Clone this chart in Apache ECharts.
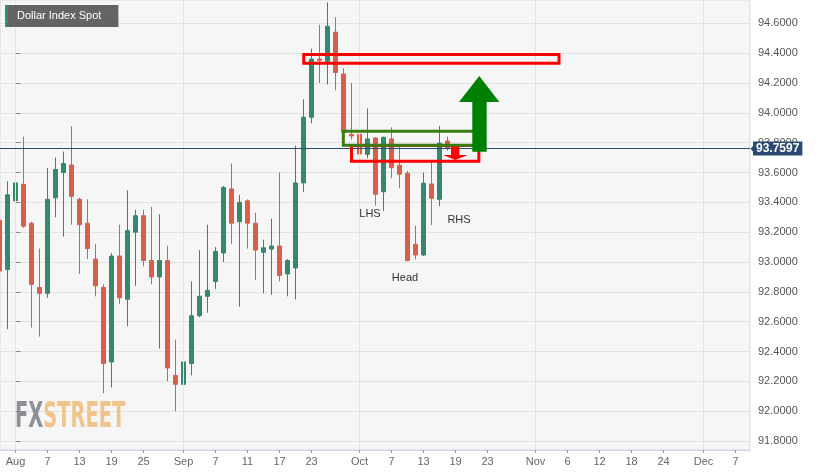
<!DOCTYPE html>
<html><head><meta charset="utf-8">
<script src="https://cdn.jsdelivr.net/npm/echarts@6/dist/echarts.min.js"></script>
<style>html,body{margin:0;padding:0;background:#fff}#c{width:827px;height:476px}</style>
</head><body><div id="c"></div>
<script>
// ---- data ----
const dates = ['2020-07-30','2020-07-31','2020-08-03','2020-08-04','2020-08-05','2020-08-06','2020-08-07',
'2020-08-10','2020-08-11','2020-08-12','2020-08-13','2020-08-14','2020-08-17','2020-08-18','2020-08-19','2020-08-20','2020-08-21',
'2020-08-24','2020-08-25','2020-08-26','2020-08-27','2020-08-28','2020-08-31','2020-09-01','2020-09-02','2020-09-03','2020-09-04',
'2020-09-07','2020-09-08','2020-09-09','2020-09-10','2020-09-11','2020-09-14','2020-09-15','2020-09-16','2020-09-17','2020-09-18',
'2020-09-21','2020-09-22','2020-09-23','2020-09-24','2020-09-25','2020-09-28','2020-09-29','2020-09-30','2020-10-01','2020-10-02',
'2020-10-05','2020-10-06','2020-10-07','2020-10-08','2020-10-09','2020-10-12','2020-10-13','2020-10-14','2020-10-15','2020-10-16'];
const open  = [93.28,92.95,93.41,93.52,93.26,92.83,92.79,93.43,93.60,93.65,93.42,93.26,93.02,92.83,92.33,93.04,92.75,
93.20,93.31,93.01,92.90,93.01,92.24,92.18,92.32,92.64,92.77,92.87,93.06,93.49,93.27,93.41,93.26,93.065,93.087,93.107,92.92,
92.96,93.53,93.97,94.36,94.345,94.54,94.26,93.855,93.856,93.722,93.831,93.471,93.825,93.648,93.595,93.119,93.047,93.523,93.42,93.811];
const close = [92.94,93.45,93.53,93.24,92.85,92.79,93.42,93.62,93.66,93.44,93.25,93.09,92.84,92.32,93.04,92.76,93.21,
93.31,93.01,92.90,93.01,92.29,92.18,92.33,92.64,92.77,92.81,93.07,93.50,93.26,93.40,93.26,93.08,93.095,93.107,92.91,93.01,
93.53,93.97,94.36,94.35,94.58,94.27,93.87,93.845,93.724,93.825,93.454,93.836,93.632,93.588,93.009,93.047,93.528,93.427,93.796,93.76];
const low   = [92.92,92.55,93.36,93.23,92.56,92.50,92.76,93.30,93.17,93.25,92.92,93.02,92.77,92.12,92.16,92.72,92.57,
92.84,92.97,92.85,92.42,92.20,92.00,91.745,92.24,92.63,92.66,92.82,93.00,93.12,92.70,93.09,92.88,92.79,92.78,92.87,92.77,
92.75,93.47,93.93,94.20,94.19,94.15,93.85,93.82,93.528,93.695,93.378,93.342,93.561,93.494,93.005,93.018,93.04,93.248,93.375,93.744];
const high  = [93.68,93.54,94.00,93.84,93.27,93.09,93.63,93.70,93.74,93.91,93.43,93.42,93.12,92.85,93.06,93.25,93.48,
93.35,93.35,93.37,93.32,93.11,92.48,92.41,92.87,93.08,93.25,93.10,93.51,93.66,93.45,93.42,93.33,93.15,93.29,93.60,93.02,
93.78,94.09,94.43,94.59,94.74,94.64,94.30,94.20,93.918,94.03,93.836,93.84,93.903,93.773,93.612,93.243,93.599,93.666,93.912,93.84];
const lastPrice = 93.7597;

const tickDates  = ['2020-08-03','2020-08-07','2020-08-13','2020-08-19','2020-08-25','2020-09-01','2020-09-07','2020-09-11',
'2020-09-17','2020-09-23','2020-10-01','2020-10-07','2020-10-13','2020-10-19','2020-10-23','2020-11-02','2020-11-06',
'2020-11-12','2020-11-18','2020-11-24','2020-12-01','2020-12-07'];
const tickLabels = ['Aug','7','13','19','25','Sep','7','11','17','23','Oct','7','13','19','23','Nov','6','12','18','24','Dec','7'];
const yTicks = [91.8,92.0,92.2,92.4,92.6,92.8,93.0,93.2,93.4,93.6,93.8,94.0,94.2,94.4,94.6];

// annotation shapes in (trading-day index, price) space
const resistBox = [[36.03,94.390],[67.94,94.390],[67.94,94.332],[36.03,94.332]];
const supportBox = [[42.0,93.780],[57.92,93.780],[57.92,93.675],[42.0,93.675]];
const breakBox = [[40.98,93.876],[57.98,93.876],[57.98,93.782],[40.98,93.782]];
const upArrow = [[57.97,94.247],[60.48,94.073],[58.9,94.073],[58.9,93.739],[57.1,93.739],[57.1,94.073],[55.44,94.073]];
const downArrow = [[54.44,93.773],[55.48,93.773],[55.48,93.717],[56.52,93.717],[54.96,93.684],[53.48,93.717],[54.44,93.717]];
const patternLabels = [['LHS',44.31,93.322],['Head',48.69,92.893],['RHS',55.44,93.282]];

// ---- helpers ----
function tIndex(s){
  const base = Date.UTC(2020,7,3);
  const d = Date.UTC(+s.slice(0,4), +s.slice(5,7)-1, +s.slice(8,10));
  const days = Math.round((d-base)/86400000);
  const w = Math.floor(days/7), r = days - 7*w;
  return 5*w + Math.min(r,5);
}
const tickIdx = tickDates.map(tIndex);
const monthIdx = tickIdx.filter((v,k)=>isNaN(+tickLabels[k]));
const candleData = dates.map((d,k)=>[tIndex(d), open[k], close[k], low[k], high[k]]);

const GREEN = '#37876f', RED = '#d75f4b', NAVY = '#2b4a72';
const FONT = '"Liberation Sans", Arial, sans-serif';
const X_MIN = -1.9375, X_MAX = 91.8125;

const annotations = [
  {pts: resistBox, stroke:'#ff0000', fill:'none', lw:3},
  {pts: supportBox, stroke:'#ff0000', fill:'none', lw:3},
  {pts: breakBox, stroke:'#3a7e12', fill:'none', lw:3},
  {pts: upArrow, stroke:null, fill:'#008000', lw:0},
  {pts: downArrow, stroke:null, fill:'#ff0000', lw:0}
];

const chart = echarts.init(document.getElementById('c'), null, {renderer:'canvas'});
chart.setOption({
  animation: false,
  backgroundColor: '#ffffff',
  title: {
    text: 'Dollar Index Spot', left: 5, top: 5,
    padding: [5,17,5,12], backgroundColor: 'rgba(88,88,88,0.93)',
    textStyle: {color:'#ffffff', fontSize: 11, fontWeight:'normal', fontFamily: FONT, lineHeight: 12}
  },
  graphic: [
    {type:'rect', id:'stripe', left:5, top:5, shape:{width:3, height:22}, style:{fill:'#2f8f74'}, z:100},
    {type:'text', id:'wm', x:15, y:418, scaleX:0.6,
     style:{text:'{a|FX}{b|STREET}', verticalAlign:'middle',
       rich:{a:{fill:'#8d9098', font:'bold 36px "DejaVu Sans Condensed", "DejaVu Sans", sans-serif'},
             b:{fill:'#f1c48d', font:'bold 36px "DejaVu Sans Condensed", "DejaVu Sans", sans-serif'}}}, z:1}
  ],
  grid: {left:0, right:77, top:0, bottom:26, show:true, backgroundColor:'#f6f6f6', borderColor:'#d3d9e8', borderWidth:1},
  xAxis: {
    type:'value', min:X_MIN, max:X_MAX,
    axisLine:{show:true, lineStyle:{color:'#cdd4e6'}},
    axisTick:{show:true, customValues: tickIdx, length:3, lineStyle:{color:'#999'}},
    axisLabel:{show:true, customValues: tickIdx, margin:6, color:'#666', fontSize:11, fontFamily:FONT,
      formatter: v => { const k = tickIdx.findIndex(t=>Math.abs(t-v)<1e-6); return k>=0 ? tickLabels[k] : ''; }},
    splitLine:{show:false}
  },
  yAxis: {
    type:'value', position:'right', min:91.74, max:94.756, splitNumber:15, scale:true,
    axisLine:{show:true, lineStyle:{color:'#cdd4e6'}},
    axisTick:{show:true, customValues: yTicks, length:5, lineStyle:{color:'#888'}},
    axisLabel:{show:true, customValues: yTicks, margin:8, color:'#555', fontSize:11, fontFamily:FONT,
      formatter: v => v.toFixed(4)},
    splitLine:{show:true, lineStyle:{color:'#e3e3e3', width:1}}
  },
  series: [
    {
      type:'line', data:[], z:1, silent:true,
      markLine:{silent:true, symbol:['none','none'], animation:false,
        lineStyle:{color:'#e3e3e3', width:1, type:'solid'}, label:{show:false},
        data: monthIdx.map(v=>({xAxis:v}))}
    },
    {
      type:'candlestick', z:2, barWidth:4,
      encode:{x:0, y:[1,2,3,4]},
      data: candleData,
      itemStyle:{color:GREEN, color0:RED, borderColor:GREEN, borderColor0:RED, borderWidth:1}
    },
    {
      type:'custom', z:5, silent:true,
      data: annotations.map((a,k)=>[a.pts[0][0], a.pts[0][1], k]),
      renderItem: (params, api) => {
        const a = annotations[params.dataIndex];
        const pts = a.pts.map(p=>api.coord(p));
        return {type:'polygon', shape:{points:pts},
          style:{fill:a.fill, stroke:a.stroke, lineWidth:a.lw, lineJoin:'miter'}};
      }
    },
    {
      type:'custom', z:6, silent:true,
      data: patternLabels.map(l=>[l[1], l[2], l[0]]),
      renderItem: (params, api) => {
        const p = api.coord([api.value(0), api.value(1)]);
        return {type:'text', x:p[0], y:p[1],
          style:{text: patternLabels[params.dataIndex][0], fill:'#333', align:'center', verticalAlign:'middle',
            font:'11px '+FONT}};
      }
    },
    {
      type:'line', data:[], z:7, silent:true,
      markLine:{silent:true, symbol:['none','none'], animation:false,
        data:[{yAxis:lastPrice,
          lineStyle:{color:NAVY, width:1, type:'solid'},
          label:{show:true, position:'end', distance:3, formatter: lastPrice.toFixed(4),
            color:'#fff', fontWeight:'bold', fontSize:12, fontFamily:FONT,
            backgroundColor:NAVY, padding:[1,3,1,3], lineHeight:12}}]}
    }
  ]
});
// small pointer on the last-price tag, placed through the axis scale
const tagPt = chart.convertToPixel({gridIndex:0}, [X_MAX, lastPrice]);
chart.setOption({graphic:[{type:'polygon', id:'tagptr', z:120,
  shape:{points:[[tagPt[0]+0.5, tagPt[1]], [tagPt[0]+4, tagPt[1]-4], [tagPt[0]+4, tagPt[1]+4]]},
  style:{fill:NAVY}}]});
</script></body></html>
